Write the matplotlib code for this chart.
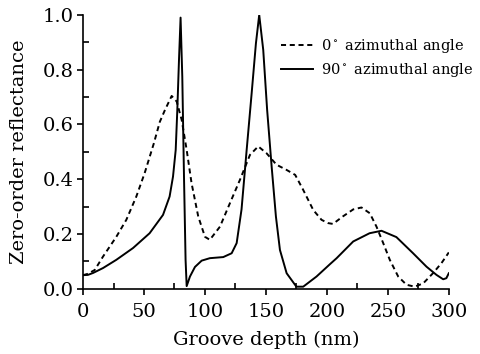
import numpy as np
import matplotlib
matplotlib.use("Agg")
import matplotlib.pyplot as plt
from matplotlib.ticker import MultipleLocator, FormatStrFormatter

plt.rcParams['font.family'] = 'DejaVu Serif'
plt.rcParams['mathtext.fontset'] = 'dejavuserif'

# 0 deg azimuthal angle (dashed)
depth_0 = [0, 4, 9.6, 16.4, 27.3, 35.5, 43.7, 50.5, 58, 63, 67.2, 72.7, 76.8,
           80.9, 85, 89, 94.5, 100, 104, 112.3, 120.5, 128.7, 136.9, 143.7,
           150.5, 158.7, 167, 174, 180.6, 188.8, 195.6, 201, 205, 213, 221.6,
           228.4, 235.2, 240.7, 246.2, 251.6, 258.5, 265.3, 272, 279, 287, 294,
           300]
refl_0 = [0.05, 0.055, 0.069, 0.118, 0.19, 0.252, 0.337, 0.422, 0.53, 0.61,
          0.653, 0.704, 0.684, 0.617, 0.507, 0.386, 0.264, 0.19, 0.179, 0.227,
          0.313, 0.398, 0.489, 0.52, 0.495, 0.453, 0.434, 0.416, 0.361, 0.288,
          0.252, 0.24, 0.237, 0.264, 0.29, 0.297, 0.276, 0.227, 0.167, 0.106,
          0.045, 0.015, 0.008, 0.02, 0.057, 0.094, 0.133]

# 90 deg azimuthal angle (solid)
depth_90 = [0, 4, 8.2, 16.4, 27.3, 41, 54.6, 65.6, 71, 73.8, 76, 77.3, 78.7,
            80, 81.4, 82.8, 84.1, 85, 87.7, 91.8, 97.3, 104, 115, 121.9, 126,
            130, 134.2, 138.3, 141.8, 144.5, 147.8, 151, 154.7, 158.2, 161.5,
            167, 175, 180.6, 191.5, 202.5, 208, 221.6, 235, 244.8, 257, 270.7,
            281.7, 289.9, 295.4, 298, 300]
refl_90 = [0.05, 0.051, 0.058, 0.076, 0.106, 0.149, 0.203, 0.27, 0.337, 0.41,
           0.507, 0.65, 0.836, 0.99, 0.775, 0.41, 0.106, 0.01, 0.045, 0.08,
           0.103, 0.112, 0.116, 0.13, 0.167, 0.29, 0.507, 0.714, 0.896, 1.0,
           0.872, 0.653, 0.446, 0.264, 0.142, 0.057, 0.008, 0.008, 0.045,
           0.09, 0.112, 0.173, 0.203, 0.212, 0.189, 0.13, 0.081, 0.051, 0.035,
           0.039, 0.057]

fig = plt.figure(figsize=(4.8, 3.54), dpi=100)
ax = fig.add_axes([0.173, 0.184, 0.762, 0.774])

ax.plot(depth_0, refl_0, color='black', lw=1.4, ls=(0, (2.6, 1.9)),
        label=r'0$^\circ$ azimuthal angle')
ax.plot(depth_90, refl_90, color='black', lw=1.4,
        label=r'90$^\circ$ azimuthal angle')

ax.set_xlim(0, 300)
ax.set_ylim(0, 1.0)
ax.xaxis.set_major_locator(MultipleLocator(50))
ax.xaxis.set_minor_locator(MultipleLocator(25))
ax.yaxis.set_major_locator(MultipleLocator(0.2))
ax.yaxis.set_minor_locator(MultipleLocator(0.1))
ax.yaxis.set_major_formatter(FormatStrFormatter('%.1f'))
ax.tick_params(which='major', direction='out', length=4, width=1.2,
               labelsize=14, pad=3)
ax.tick_params(axis='x', which='major', pad=6.5)
ax.tick_params(which='minor', direction='in', length=4, width=1.2)

for s in ['top', 'right']:
    ax.spines[s].set_visible(False)
for s in ['left', 'bottom']:
    ax.spines[s].set_linewidth(1.2)

ax.set_xlabel('Groove depth (nm)', fontsize=14, labelpad=7)
ax.set_ylabel('Zero-order reflectance', fontsize=14, labelpad=10)

ax.legend(loc='upper left', bbox_to_anchor=(0.541, 0.92), frameon=False,
          fontsize=10.5, handlelength=2.2, handletextpad=0.55,
          labelspacing=0.45, borderpad=0, borderaxespad=0)

fig.savefig('out.png', dpi=100)
